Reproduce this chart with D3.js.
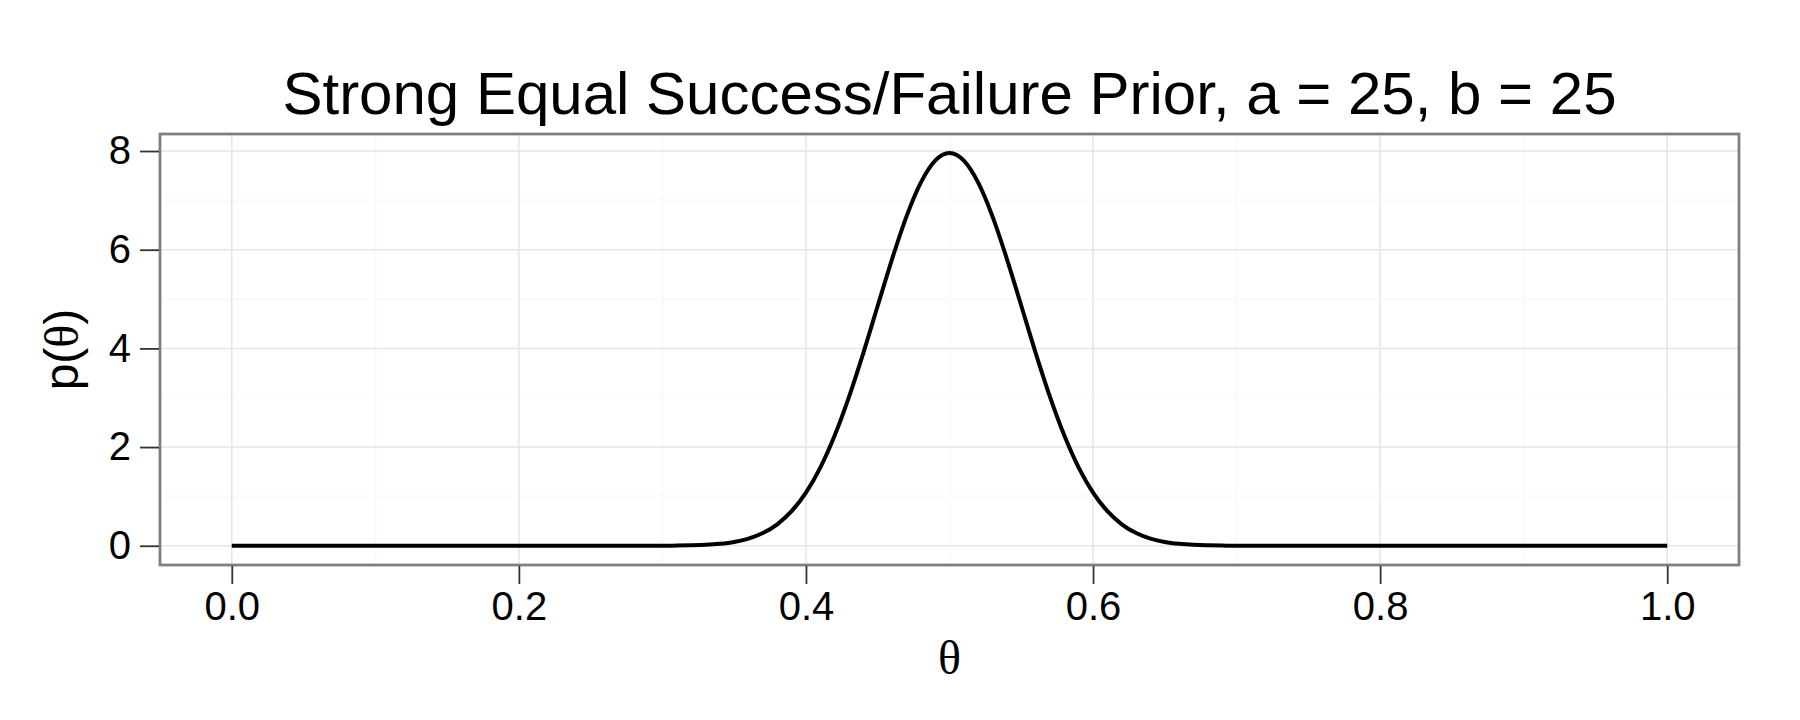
<!DOCTYPE html>
<html><head><meta charset="utf-8">
<script src="https://cdn.jsdelivr.net/npm/d3@7"></script>
<style>body{margin:0;background:#fff;}svg{display:block;}</style>
</head><body>
<svg id="c" width="1800" height="720"></svg>
<script>
// Data
const titleText = "Strong Equal Success/Failure Prior, a = 25, b = 25";
const xTicks = [0.0, 0.2, 0.4, 0.6, 0.8, 1.0];
const xMinor = [0.1, 0.3, 0.5, 0.7, 0.9];
const yTicks = [0, 2, 4, 6, 8];
const yMinor = [1, 3, 5, 7];
const theta = [0.00, 0.10, 0.20, 0.28, 0.29, 0.30, 0.31, 0.32, 0.33, 0.34, 0.35, 0.36, 0.37, 0.38, 0.39,
  0.40, 0.41, 0.42, 0.43, 0.44, 0.45, 0.46, 0.47, 0.48, 0.49, 0.50, 0.51, 0.52, 0.53, 0.54, 0.55,
  0.56, 0.57, 0.58, 0.59, 0.60, 0.61, 0.62, 0.63, 0.64, 0.65, 0.66, 0.67, 0.68, 0.69, 0.70, 0.71, 0.72, 0.80, 0.90, 1.00];
const density = [0, 0, 0, 0.00, 0.00, 0.00, 0.004, 0.009, 0.019, 0.04, 0.078, 0.146, 0.258, 0.435, 0.70,
  1.077, 1.585, 2.234, 3.018, 3.91, 4.864, 5.811, 6.671, 7.359, 7.805, 7.96, 7.805, 7.359, 6.671, 5.811, 4.864,
  3.91, 3.018, 2.234, 1.585, 1.077, 0.70, 0.435, 0.258, 0.146, 0.078, 0.04, 0.019, 0.009, 0.004, 0.00, 0.00, 0.00, 0, 0, 0];

const svg = d3.select("#c");
const L = 160, R = 1739, T = 134, B = 565;
const x = d3.scaleLinear().domain([-0.05, 1.05]).range([L, R]);
const y = d3.scaleLinear().domain([-0.39, 8.345]).range([B, T]);

svg.append("rect").attr("x", L).attr("y", T).attr("width", R - L).attr("height", B - T).attr("fill", "#fff");

const g = svg.append("g");
g.selectAll(".xm").data(xMinor).join("line")
  .attr("x1", d => x(d)).attr("x2", d => x(d)).attr("y1", T).attr("y2", B)
  .attr("stroke", "#fafafa").attr("stroke-width", 2.2);
g.selectAll(".ym").data(yMinor).join("line")
  .attr("y1", d => y(d)).attr("y2", d => y(d)).attr("x1", L).attr("x2", R)
  .attr("stroke", "#fafafa").attr("stroke-width", 2.2);
g.selectAll(".xM").data(xTicks).join("line")
  .attr("x1", d => x(d)).attr("x2", d => x(d)).attr("y1", T).attr("y2", B)
  .attr("stroke", "#e5e5e5").attr("stroke-width", 1.5);
g.selectAll(".yM").data(yTicks).join("line")
  .attr("y1", d => y(d)).attr("y2", d => y(d)).attr("x1", L).attr("x2", R)
  .attr("stroke", "#e5e5e5").attr("stroke-width", 1.5);

const pts = theta.map((t, i) => [t, density[i]]);
svg.append("path").datum(pts)
  .attr("d", d3.line().x(d => x(d[0])).y(d => y(d[1])).curve(d3.curveMonotoneX))
  .attr("fill", "none").attr("stroke", "#000").attr("stroke-width", 4)
  .attr("stroke-linejoin", "round");

svg.append("rect").attr("x", L).attr("y", T).attr("width", R - L).attr("height", B - T)
  .attr("fill", "none").attr("stroke", "#7f7f7f").attr("stroke-width", 2.8);

const xAxis = d3.axisBottom(x).tickValues(xTicks).tickFormat(d3.format(".1f")).tickSize(18).tickPadding(8);
const yAxis = d3.axisLeft(y).tickValues(yTicks).tickFormat(d3.format("d")).tickSize(19).tickPadding(9);
const gx = svg.append("g").attr("transform", `translate(0,${B + 1})`).call(xAxis);
const gy = svg.append("g").attr("transform", `translate(${L - 1},0)`).call(yAxis);
[gx, gy].forEach(a => {
  a.select(".domain").remove();
  a.selectAll(".tick line").attr("stroke", "#333").attr("stroke-width", 1.8);
  a.selectAll(".tick text").attr("fill", "#000").attr("font-family", "Liberation Sans, Arial, sans-serif").attr("font-size", 40);
});

svg.append("text").attr("x", (L + R) / 2).attr("y", 114).attr("text-anchor", "middle")
  .attr("font-family", "Liberation Sans, Arial, sans-serif").attr("font-size", 60).attr("fill", "#000")
  .text(titleText);

const xt = svg.append("text").attr("x", (L + R) / 2).attr("y", 674).attr("text-anchor", "middle")
  .attr("font-size", 48).attr("fill", "#000");
xt.append("tspan").attr("font-family", "Liberation Serif, serif").text("θ");

const yt = svg.append("text").attr("transform", `translate(78,${(T + B) / 2}) rotate(-90)`).attr("text-anchor", "middle")
  .attr("font-size", 48).attr("fill", "#000").attr("font-family", "Liberation Sans, Arial, sans-serif");
yt.append("tspan").text("p(");
yt.append("tspan").attr("font-family", "Liberation Serif, serif").text("θ");
yt.append("tspan").text(")");
</script>
</body></html>
